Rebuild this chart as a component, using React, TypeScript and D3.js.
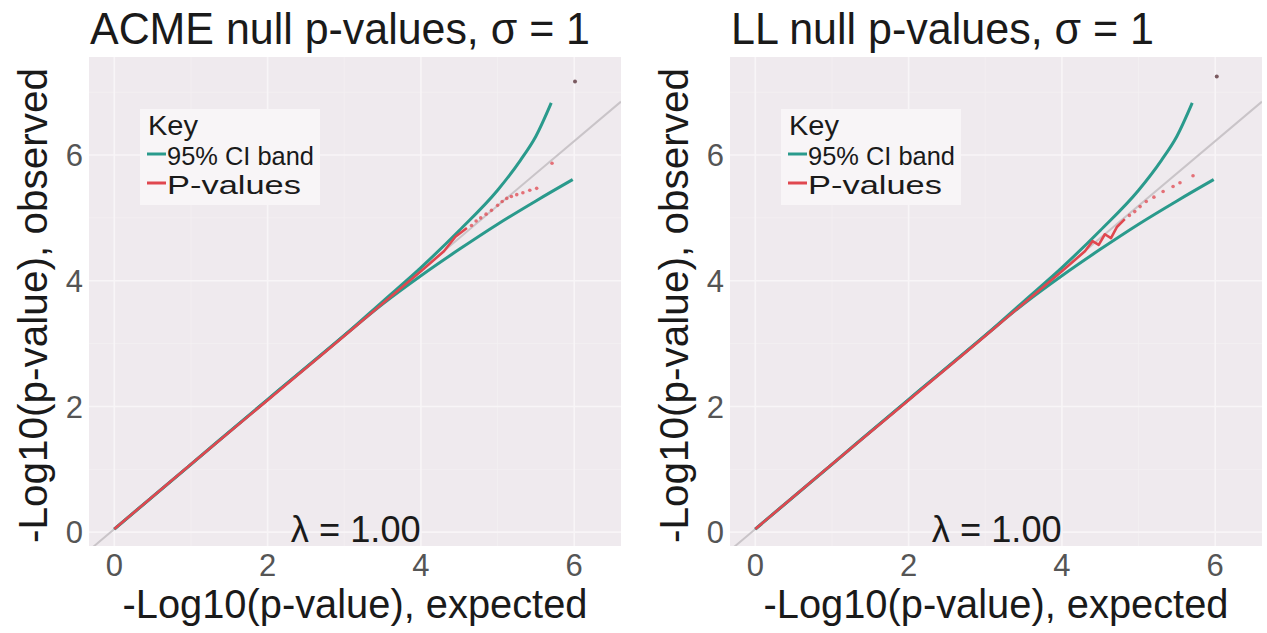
import * as d3 from "d3";

// axis setup
const xDomain: [number, number] = [-0.33, 6.61];
const yDomain: [number, number] = [-0.22, 7.56];
const xTicks = [0, 2, 4, 6];
const yTicks = [0, 2, 4, 6];
const xMinor = [1, 3, 5];
const yMinor = [1, 3, 5, 7];

// grey reference line (end points)
const refLine: [number, number][] = [
  [-0.33, -0.29],
  [6.61, 6.85],
];

// 95% CI band, same in both panels
const bandUpper: [number, number][] = [
  [0, 0.05], [1, 1.08], [2, 2.11], [3, 3.13], [3.5, 3.67], [4, 4.21],
  [4.5, 4.8], [5, 5.44], [5.3, 5.92], [5.5, 6.3], [5.7, 6.83],
];
const bandLower: [number, number][] = [
  [0, 0.05], [1, 1.08], [2, 2.11], [3, 3.13], [3.5, 3.63], [4, 4.08],
  [4.5, 4.5], [5, 4.9], [5.5, 5.27], [5.98, 5.61],
];

// ACME p-values: dense part and sparse tail
const acmeDense: [number, number][] = [
  [0, 0.05], [1, 1.08], [2, 2.1], [3, 3.12], [3.5, 3.64], [4, 4.15],
  [4.3, 4.47], [4.45, 4.7], [4.6, 4.84],
];
const acmeTail: [number, number][] = [
  [4.66, 4.88], [4.72, 4.95], [4.78, 5.0], [4.85, 5.06], [4.92, 5.12],
  [5.0, 5.2], [5.06, 5.26], [5.12, 5.31], [5.18, 5.34], [5.25, 5.37],
  [5.33, 5.4], [5.42, 5.44], [5.51, 5.47], [5.71, 5.87],
];
const acmeTop: [number, number][] = [[6.01, 7.17]];

// LL p-values
const llDense: [number, number][] = [
  [0, 0.05], [1, 1.08], [2, 2.1], [3, 3.12], [3.5, 3.64], [4, 4.15],
  [4.3, 4.47], [4.4, 4.63], [4.48, 4.57], [4.56, 4.74], [4.64, 4.68],
  [4.72, 4.86], [4.82, 4.98],
];
const llTail: [number, number][] = [
  [4.88, 5.04], [4.95, 5.1], [5.02, 5.18], [5.1, 5.26], [5.2, 5.33],
  [5.32, 5.42], [5.45, 5.5], [5.54, 5.56], [5.71, 5.67],
];
const llTop: [number, number][] = [[6.02, 7.25]];

const lambdaLabel = "λ = 1.00";

const FONT = "'Liberation Sans', Arial, Helvetica, sans-serif";
const TEAL = "#2a9a8c";
const RED = "#e0474f";
const PANEL_BG = "#efeaee";

const PW = 532;
const PH = 489;
const TOP = 57;

interface PanelProps {
  left: number;
  title: string;
  titleWidth: number;
  dense: [number, number][];
  tail: [number, number][];
  top: [number, number][];
  id: string;
}

function Panel({ left, title, titleWidth, dense, tail, top, id }: PanelProps) {
  const x = d3.scaleLinear(xDomain, [0, PW]);
  const y = d3.scaleLinear(yDomain, [PH, 0]);
  const line = d3
    .line<[number, number]>()
    .x((d) => x(d[0]))
    .y((d) => y(d[1]))
    .curve(d3.curveMonotoneX);
  const straight = d3
    .line<[number, number]>()
    .x((d) => x(d[0]))
    .y((d) => y(d[1]));

  return (
    <g>
      <text
        x={left + 1}
        y={44}
        fontSize={44}
        fill="#1a1a1a"
        textLength={titleWidth}
        lengthAdjust="spacingAndGlyphs"
      >
        {title}
      </text>

      <g transform={`translate(${left},${TOP})`}>
        <defs>
          <clipPath id={id}>
            <rect width={PW} height={PH} />
          </clipPath>
        </defs>
        <rect width={PW} height={PH} fill={PANEL_BG} />
        {xMinor.map((t) => (
          <line key={"xm" + t} x1={x(t)} x2={x(t)} y1={0} y2={PH} stroke="#f4f0f3" strokeWidth={0.8} />
        ))}
        {yMinor.map((t) => (
          <line key={"ym" + t} x1={0} x2={PW} y1={y(t)} y2={y(t)} stroke="#f4f0f3" strokeWidth={0.8} />
        ))}
        {xTicks.map((t) => (
          <line key={"xg" + t} x1={x(t)} x2={x(t)} y1={0} y2={PH} stroke="#f8f5f7" strokeWidth={1.6} />
        ))}
        {yTicks.map((t) => (
          <line key={"yg" + t} x1={0} x2={PW} y1={y(t)} y2={y(t)} stroke="#f8f5f7" strokeWidth={1.6} />
        ))}

        <g clipPath={`url(#${id})`}>
          <path d={straight(refLine) ?? ""} stroke="#c9c4c8" strokeWidth={2} fill="none" />
          <path d={line(bandUpper) ?? ""} stroke={TEAL} strokeWidth={3} fill="none" />
          <path d={line(bandLower) ?? ""} stroke={TEAL} strokeWidth={3} fill="none" />
          <path d={straight(dense) ?? ""} stroke={RED} strokeWidth={2.6} fill="none" strokeLinejoin="round" />
          {tail.map((d, i) => (
            <circle key={"t" + i} cx={x(d[0])} cy={y(d[1])} r={1.8} fill={RED} opacity={0.75} />
          ))}
          {top.map((d, i) => (
            <circle key={"o" + i} cx={x(d[0])} cy={y(d[1])} r={2} fill="#7a5a60" />
          ))}
        </g>

        {/* legend */}
        <rect x={51} y={52} width={180} height={96} fill="#f8f5f7" />
        <text x={59} y={78} fontSize={27} fill="#1a1a1a" textLength={50} lengthAdjust="spacingAndGlyphs">
          Key
        </text>
        <line x1={58} x2={77} y1={97} y2={97} stroke={TEAL} strokeWidth={3} />
        <text x={78} y={108} fontSize={26} fill="#1a1a1a" textLength={147} lengthAdjust="spacingAndGlyphs">
          95% CI band
        </text>
        <line x1={58} x2={77} y1={126} y2={126} stroke={RED} strokeWidth={3} />
        <text x={78} y={137} fontSize={26} fill="#1a1a1a" textLength={134} lengthAdjust="spacingAndGlyphs">
          P-values
        </text>

        <text
          x={x(3.15)}
          y={PH - 4}
          fontSize={36}
          textAnchor="middle"
          fill="#1a1a1a"
          textLength={130}
          lengthAdjust="spacingAndGlyphs"
        >
          {lambdaLabel}
        </text>

        {xTicks.map((t) => (
          <text key={"xt" + t} x={x(t)} y={PH + 30} fontSize={31} textAnchor="middle" fill="#555">
            {t}
          </text>
        ))}
        {yTicks.map((t) => (
          <text key={"yt" + t} x={-6} y={y(t)} dy="0.36em" fontSize={31} textAnchor="end" fill="#555">
            {t}
          </text>
        ))}

        <text
          x={PW / 2}
          y={PH + 72}
          fontSize={41}
          textAnchor="middle"
          fill="#1a1a1a"
          textLength={465}
          lengthAdjust="spacingAndGlyphs"
        >
          -Log10(p-value), expected
        </text>
        <text
          transform={`translate(${-42},${PH / 2 + 4}) rotate(-90)`}
          fontSize={41}
          textAnchor="middle"
          fill="#1a1a1a"
          textLength={475}
          lengthAdjust="spacingAndGlyphs"
        >
          -Log10(p-value), observed
        </text>
      </g>
    </g>
  );
}

export default function App() {
  return (
    <svg
      width={1267}
      height={633}
      style={{ position: "absolute", left: 0, top: 0, background: "#fff" }}
      fontFamily={FONT}
    >
      <Panel
        left={89}
        title="ACME null p-values, σ = 1"
        titleWidth={500}
        dense={acmeDense}
        tail={acmeTail}
        top={acmeTop}
        id="clipA"
      />
      <Panel
        left={730}
        title="LL null p-values, σ = 1"
        titleWidth={423}
        dense={llDense}
        tail={llTail}
        top={llTop}
        id="clipB"
      />
    </svg>
  );
}
